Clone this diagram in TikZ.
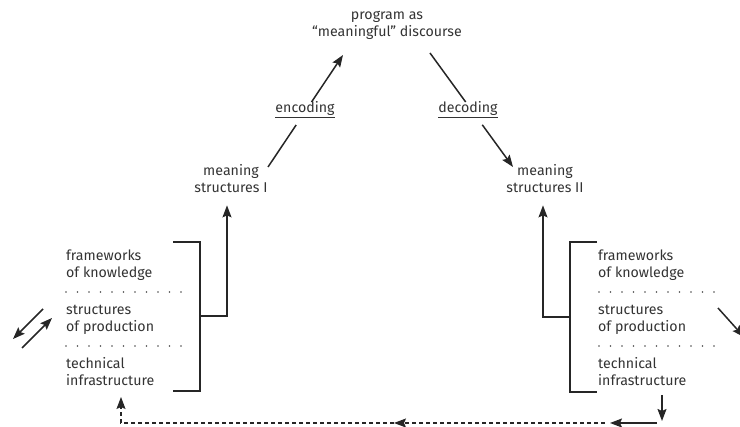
\documentclass[tikz,border=0pt]{standalone}
\usepackage{fontspec}
\setmainfont{Fira Sans}
\usetikzlibrary{arrows.meta,calc,positioning}

\begin{document}
\begin{tikzpicture}[x=1pt,y=-1pt,
  txt/.style={font=\fontsize{14.2}{17.5}\selectfont,text=black!80,inner sep=0pt,align=left},
  lnk/.style={line width=1.5pt,draw=black!85},
  arr/.style={lnk,-{Stealth[length=12pt,width=9pt,inset=2pt]}},
  dsh/.style={arr,line width=1.2pt,dash pattern=on 4pt off 3pt},
  dots/.style={line width=1.8pt,draw=black!70,line cap=round,dash pattern=on 0pt off 11.5pt}]
  \useasboundingbox (0,0) rectangle (740,427);
  % top of the triangle (base = last line)
  \node[txt,align=center,anchor=base] (prog) at (387,37) {program as\\“meaningful” discourse};
  \node[txt,align=center,anchor=base] (msI) at (231,193) {meaning\\structures I};
  \node[txt,align=center,anchor=base] (msII) at (545,193) {meaning\\structures II};
  \node[txt,anchor=base] (enc) at (305,113) {\underline{encoding}};
  \node[txt,anchor=base] (dec) at (468,113) {\underline{decoding}};
  % encoding / decoding lines with gaps for labels
  \coordinate (encA) at (268,167);
  \coordinate (encB) at (343,55);
  \draw[lnk] (encA) -- ($(encA)!0.375!(encB)$);
  \draw[arr] ($(encA)!0.58!(encB)$) -- (encB);
  \coordinate (decA) at (430,53);
  \coordinate (decB) at (513,167);
  \draw[lnk] (decA) -- ($(decA)!0.43!(decB)$);
  \draw[arr] ($(decA)!0.63!(decB)$) -- (decB);
  % left block
  \node[txt,anchor=base west] (fkI) at (66,278) {frameworks\\of knowledge};
  \node[txt,anchor=base west] (spI) at (66,332) {structures\\of production};
  \node[txt,anchor=base west] (tiI) at (66,386) {technical\\infrastructure};
  \draw[dots] (66,292) -- (183,292);
  \draw[dots] (66,346) -- (183,346);
  \draw[lnk] (173,242) -| (200,391) -- (173,391);
  \coordinate (brI) at (200,316);
  \draw[arr] (brI) -| ([xshift=-4pt,yshift=-12pt]msI.south);
  % right block
  \node[txt,anchor=base west] (fkII) at (598,278) {frameworks\\of knowledge};
  \node[txt,anchor=base west] (spII) at (598,332) {structures\\of production};
  \node[txt,anchor=base west] (tiII) at (598,386) {technical\\infrastructure};
  \draw[dots] (599,292) -- (716,292);
  \draw[dots] (599,346) -- (716,346);
  \draw[lnk] (597,242) -| (570,392) -- (597,392);
  \coordinate (brII) at (570,317);
  \draw[arr] (brII) -| ([xshift=-2pt,yshift=-12pt]msII.south);
  % side arrows
  \coordinate (lA) at (43,309);
  \coordinate (lB) at (13,339);
  \coordinate (lC) at (22,348);
  \coordinate (lD) at (52,318);
  \draw[arr] (lA) -- (lB);
  \draw[arr] (lC) -- (lD);
  \coordinate (rA) at (718,308);
  \coordinate (rB) at (744,337);
  \draw[arr] (rA) -- (rB);
  % feedback along the bottom
  \coordinate (fb1) at (662,395);
  \coordinate (fb2) at (662,421);
  \coordinate (fb3) at (657,423);
  \coordinate (fb4) at (610,423);
  \coordinate (fb5) at (605,423);
  \coordinate (fb6) at (394,423);
  \coordinate (fb7) at (121,423);
  \coordinate (fb8) at (121,397);
  \draw[arr] (fb1) -- (fb2);
  \draw[arr] (fb3) -- (fb4);
  \draw[dsh] (fb5) -- (fb6);
  \draw[dsh] (fb6) -- (fb7) -- (fb8);
\end{tikzpicture}
\end{document}
